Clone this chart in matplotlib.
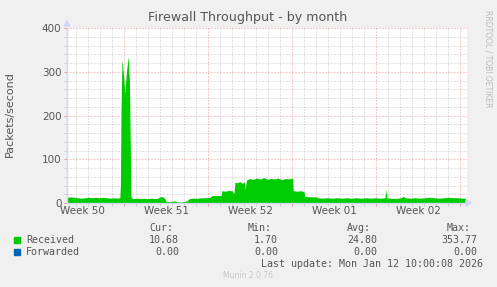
import matplotlib
matplotlib.use("Agg")
import matplotlib.pyplot as plt
from matplotlib.patches import Rectangle

# Received packets/second, knots in days since the left edge of the graph
recv_day = [0.0, 0.3, 0.6, 0.9, 1.2, 1.5, 1.8, 2.1, 2.4, 2.7, 3.0, 3.3, 3.6, 3.9, 4.2, 4.4,
            4.45, 4.5, 4.58, 4.7, 4.82, 4.95, 5.1, 5.2, 5.28, 5.33,
            5.5, 5.8, 6.1, 6.4, 6.7, 7.0, 7.3, 7.6, 7.7, 8.0, 8.1, 8.25, 8.6, 8.9, 9.2,
            9.5, 9.8, 10.0, 10.2, 10.5, 10.9, 11.2, 11.5, 11.9, 12.1, 12.5, 12.85,
            12.9, 13.2, 13.5, 13.8, 13.9, 14.0, 14.2, 14.4, 14.6, 14.8, 14.85, 14.95,
            15.2, 15.5, 15.8, 16.1, 16.4, 16.7, 17.0, 17.3, 17.6, 17.9, 18.2, 18.5, 18.8,
            18.85, 19.2, 19.5, 19.75, 19.8, 20.3, 20.8, 20.9, 21.3, 21.7, 22.1, 22.5,
            22.9, 23.3, 23.7, 24.1, 24.5, 24.9, 25.3, 25.7, 26.1, 26.5, 26.55, 26.65,
            27.0, 27.4, 27.8, 28.0, 28.2, 28.6, 29.0, 29.4, 29.8, 30.2, 30.6, 31.0,
            31.4, 31.8, 32.2, 32.6, 33.0, 33.2]
recv_val = [13, 14, 13, 12, 11, 12, 13, 12, 13, 12, 13, 12, 11, 12, 11, 12,
            40, 210, 328, 295, 250, 300, 335, 280, 120, 14,
            10, 11, 10, 11, 10, 11, 10, 11, 14, 14, 12, 4, 3, 5, 3,
            2, 4, 5, 10, 11, 11, 12, 12, 13, 17, 17, 17,
            28, 27, 29, 27, 20, 48, 46, 49, 45, 48, 30, 52,
            56, 54, 57, 55, 58, 54, 56, 55, 57, 53, 56, 55, 57,
            28, 27, 28, 26, 15, 14, 14, 12, 11, 12, 11, 12,
            11, 12, 11, 12, 11, 12, 11, 12, 11, 12, 32, 12,
            11, 10, 12, 15, 12, 11, 12, 11, 12, 13, 12, 11,
            12, 13, 12, 12, 11, 11]

week_labels = ["Week 50", "Week 51", "Week 52", "Week 01", "Week 02"]
week_label_pos = [1.3, 8.3, 15.3, 22.3, 29.3]
week_starts = [4.75, 11.75, 18.75, 25.75, 32.75]

legend_names = ["Received", "Forwarded"]
legend_colors = ["#00CC00", "#0066B3"]
stat_heads = ["Cur:", "Min:", "Avg:", "Max:"]
stats = [["10.68", "1.70", "24.80", "353.77"],
         ["0.00", "0.00", "0.00", "0.00"]]

W, H = 497, 287
fig = plt.figure(figsize=(W / 100, H / 100), dpi=100, facecolor="#F0F0F0")

def fx(px):
    return px / W

def fy(py):
    return 1 - py / H

ax = fig.add_axes([fx(67), fy(203), fx(467) - fx(67), fy(28) - fy(203)])
ax.set_facecolor("white")
ax.set_xlim(0, 33.33)
ax.set_ylim(0, 400)

# grid, rrdtool style dotted
minor_c = "#C4C4C4"
major_c = "#EC9A9A"
dots = (0, (1, 2))
for d in range(34):
    x = 0.75 + d
    if x in week_starts:
        continue
    ax.axvline(x, color=minor_c, lw=0.72, ls=dots, zorder=0)
for v in range(20, 400, 20):
    if v % 100:
        ax.axhline(v, color=minor_c, lw=0.72, ls=dots, zorder=0)
for x in week_starts:
    ax.axvline(x, color=major_c, lw=0.72, ls=dots, zorder=0)
for v in range(100, 401, 100):
    ax.axhline(v, color=major_c, lw=0.72, ls=dots, zorder=0)

ax.fill_between(recv_day, 0, recv_val, color="#00CC00", lw=0, zorder=2)

for s in ["top", "right"]:
    ax.spines[s].set_visible(False)
for s in ["left", "bottom"]:
    ax.spines[s].set_color("#CFD6F8")
    ax.spines[s].set_linewidth(1.0)
    ax.spines[s].set_zorder(3)

ax.set_xticks(week_starts)
ax.set_xticks([0.75 + d for d in range(33)], minor=True)
ax.set_xticklabels([])
ax.tick_params(axis="x", which="major", length=2, color=major_c, width=0.8)
ax.tick_params(axis="x", which="minor", length=2, color=minor_c, width=0.6)
for lab, p in zip(week_labels, week_label_pos):
    ax.text(p, -7, lab, ha="center", va="top", fontsize=7.5, color="#555555")

ax.set_yticks([0, 100, 200, 300, 400])
ax.set_yticks(range(0, 401, 20), minor=True)
ax.tick_params(axis="y", which="major", length=2, color=major_c, width=0.8,
               labelsize=7.5, labelcolor="#555555", pad=2)
ax.tick_params(axis="y", which="minor", length=2, color=minor_c, width=0.6)

# axis arrows
fig.patches.append(plt.Polygon([[fx(64), fy(26)], [fx(70), fy(26)], [fx(67), fy(21)]],
                               closed=True, color="#CFD6F8", transform=fig.transFigure))
fig.patches.append(plt.Polygon([[fx(466), fy(200)], [fx(466), fy(206)], [fx(471), fy(203)]],
                               closed=True, color="#CFD6F8", transform=fig.transFigure))

fig.text(fx(248), fy(18), "Firewall Throughput - by month", ha="center", va="center",
         fontsize=9.1, color="#555555")
fig.text(fx(10), fy(114), "Packets/second", rotation=90, ha="center", va="center",
         fontsize=8, color="#555555")
fig.text(fx(488), fy(10), "RRDTOOL / TOBI OETIKER", rotation=270, ha="center", va="top",
         fontsize=5.5, color="#BBBBBB")

mono = dict(family="DejaVu Sans Mono", fontsize=7.2, color="#555555", va="center")
col_right = [179, 278, 377, 477]
for h, xr in zip(stat_heads, col_right):
    fig.text(fx(xr - 6), fy(228), h, ha="right", **mono)
for i, (name, c) in enumerate(zip(legend_names, legend_colors)):
    yy = 240 + 12 * i
    fig.patches.append(Rectangle((fx(14), fy(yy + 3)), fx(6), fy(0) - fy(6), color=c,
                                 transform=fig.transFigure))
    fig.text(fx(26), fy(yy), name, ha="left", **mono)
    for val, xr in zip(stats[i], col_right):
        fig.text(fx(xr), fy(yy), val, ha="right", **mono)
fig.text(fx(483), fy(264), "Last update: Mon Jan 12 10:00:08 2026", ha="right", **mono)
fig.text(fx(248), fy(276), "Munin 2.0.76", ha="center", va="center", fontsize=5.5,
         color="#C8C8C8")

fig.savefig("out.png", dpi=100, facecolor=fig.get_facecolor())
